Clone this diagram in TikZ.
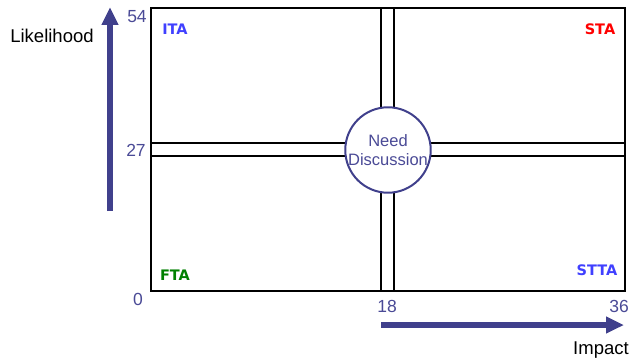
\documentclass[tikz,border=0pt]{standalone}
\usepackage{fontspec}
\setmainfont{Liberation Sans}
\newfontfamily\verdanalike{DejaVu Sans}
\usetikzlibrary{arrows.meta}
\definecolor{axisblue}{RGB}{64,64,140}
\definecolor{numblue}{RGB}{74,74,150}
\definecolor{itablue}{RGB}{64,64,255}
\definecolor{stared}{RGB}{255,0,0}
\definecolor{ftagreen}{RGB}{0,128,0}
\tikzset{
  frame/.style={draw=black, line width=2.2pt, fill=white},
  axisarrow/.style={draw=axisblue, line width=5.5pt, -{Triangle[length=18pt,width=16pt]}},
  numlabel/.style={text=numblue, font=\fontsize{17.5}{17.5}\selectfont, inner sep=0pt},
  axlabel/.style={text=black, font=\fontsize{18.5}{18.5}\selectfont, inner sep=0pt},
  quadlabel/.style={font=\verdanalike\bfseries\fontsize{14.5}{14.5}\selectfont, inner sep=0pt},
  discuss/.style={circle, draw=axisblue, line width=2pt, fill=white, minimum size=84pt, inner sep=0pt, align=center, text=numblue, font=\fontsize{16.5}{19}\selectfont}
}
\begin{document}
\begin{tikzpicture}[x=1pt,y=-1pt]
\useasboundingbox (0,0) rectangle (635,361);
\draw[frame] (151,8) rectangle (625,291);
\draw[frame] (381,8) rectangle (394,291);
\draw[frame] (151,143) rectangle (625,156);
\node[discuss] (nd) at (388,150) {Need\\Discussion};
\coordinate (vs) at (110,211);
\coordinate (ve) at (110,7);
\draw[axisarrow] (vs) -- (ve);
\coordinate (hs) at (381,325);
\coordinate (he) at (624,325);
\draw[axisarrow] (hs) -- (he);
\node[axlabel] (lik) at (52,36) {Likelihood};
\node[axlabel] (imp) at (601,350) {Impact};
\node[numlabel] (n54) at (137,17) {54};
\node[numlabel] (n27) at (136,150) {27};
\node[numlabel] (n0) at (138,299) {0};
\node[numlabel] (n18) at (387,306) {18};
\node[numlabel] (n36) at (619,306) {36};
\node[quadlabel, text=itablue] (ita) at (175,29) {ITA};
\node[quadlabel, text=stared] (sta) at (600,29) {STA};
\node[quadlabel, text=ftagreen] (fta) at (175,275) {FTA};
\node[quadlabel, text=itablue] (stta) at (597,270) {STTA};
\end{tikzpicture}
\end{document}
